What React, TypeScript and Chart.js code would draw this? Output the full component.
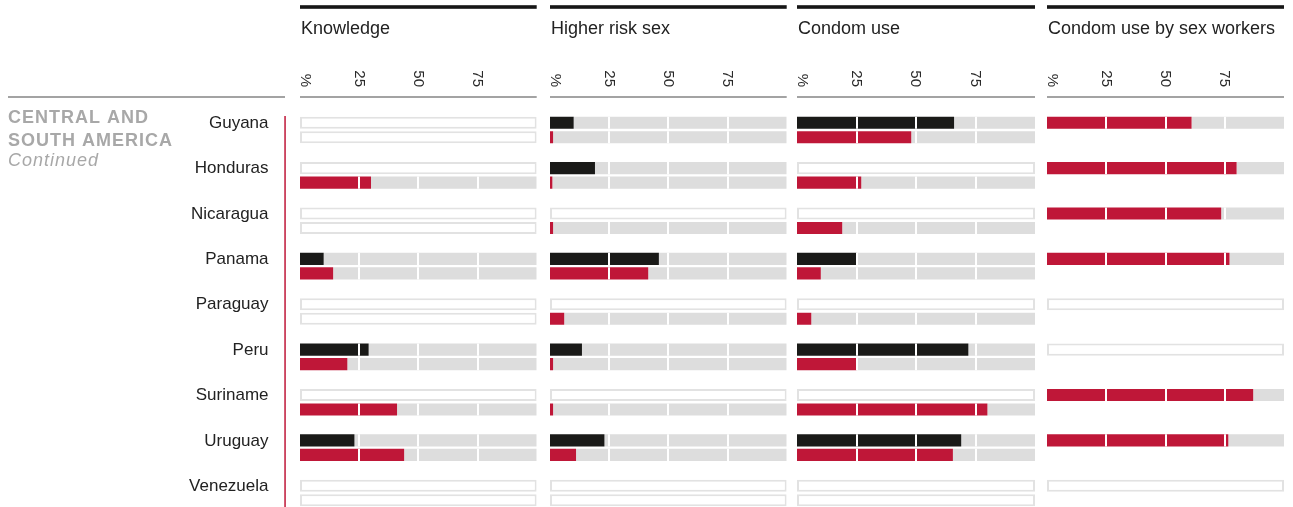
import React, { useEffect, useRef } from 'react';
import { Chart, registerables } from 'chart.js';

Chart.register(...registerables);

// ---------- data ----------
const countries = ['Guyana', 'Honduras', 'Nicaragua', 'Panama', 'Paraguay', 'Peru', 'Suriname', 'Uruguay', 'Venezuela'];
const panelTitles = ['Knowledge', 'Higher risk sex', 'Condom use', 'Condom use by sex workers'];
const tickValues = [0, 25, 50, 75];
const tickLabels = ['%', '25', '50', '75'];
const regionLines = ['CENTRAL AND', 'SOUTH AMERICA'];
const regionNote = 'Continued';

const knowledgeBlack = [null, null, null, 10, null, 29, null, 23, null];
const knowledgeRed = [null, 30, null, 14, null, 20, 41, 44, null];
const riskBlack = [10, 19, null, 46, null, 13.5, null, 23, null];
const riskRed = [1.3, 1, 1.3, 41.5, 6, 1.3, 1.3, 11, null];
const condomBlack = [66, null, null, 25, null, 72, null, 69, null];
const condomRed = [48, 27, 19, 10, 6, 25, 80, 65.5, null];
const sexWorkersRed = [61, 80, 73.5, 77, null, null, 87, 76.5, null];

// ---------- styles ----------
const BLACK = '#1a1a18';
const RED = '#bf1738';
const GRAY = '#dddddd';
const BOX = '#e2e2e2';
const FONT = '"Liberation Sans", Arial, sans-serif';

type Series = (number | null)[];
const panels: { title: string; top: Series; bottom: Series | null; topColor: string; left: number; width: number; padLeft: number; padRight: number }[] = [
  { title: panelTitles[0], top: knowledgeBlack, bottom: knowledgeRed, topColor: BLACK, left: 0, width: 545, padLeft: 300, padRight: 8.3 },
  { title: panelTitles[1], top: riskBlack, bottom: riskRed, topColor: BLACK, left: 540, width: 250, padLeft: 10, padRight: 3.3 },
  { title: panelTitles[2], top: condomBlack, bottom: condomRed, topColor: BLACK, left: 787, width: 250, padLeft: 10, padRight: 2 },
  { title: panelTitles[3], top: sexWorkersRed, bottom: null, topColor: RED, left: 1037, width: 256, padLeft: 10, padRight: 9 },
];

const CANVAS_H = 520;

function buildDatasets(top: Series, bottom: Series | null, topColor: string) {
  const make = (vals: Series | null, color: string, stack: string) => {
    const v = vals || countries.map(() => null);
    const present = !!vals;
    return [
      { label: stack + '-value', stack, data: v.map((x) => (x == null ? null : x)), backgroundColor: color, borderWidth: 0 },
      { label: stack + '-rest', stack, data: v.map((x) => (x == null ? null : 100 - x)), backgroundColor: GRAY, borderWidth: 0 },
      {
        label: stack + '-empty', stack,
        data: v.map((x) => (present && x == null ? 100 : null)),
        backgroundColor: '#ffffff', borderColor: BOX, borderWidth: 2, borderSkipped: false,
      },
    ];
  };
  return [...make(top, topColor, 'a'), ...make(bottom, RED, 'b')];
}

const whiteGrid = {
  id: 'whiteGrid',
  afterDatasetsDraw(chart: any) {
    const ctx = chart.ctx;
    const xs = chart.scales.x;
    ctx.save();
    ctx.strokeStyle = '#ffffff';
    ctx.lineWidth = 2;
    [0, 3].forEach((di) => {
      const ds = chart.data.datasets[di];
      const meta = chart.getDatasetMeta(di);
      ds.data.forEach((v: any, i: number) => {
        if (v == null) return;
        const el = meta.data[i];
        const t = el.y - el.height / 2;
        [25, 50, 75].forEach((tv) => {
          const x = Math.round(xs.getPixelForValue(tv));
          ctx.beginPath();
          ctx.moveTo(x, t);
          ctx.lineTo(x, t + el.height);
          ctx.stroke();
        });
      });
    });
    ctx.restore();
  },
};

const header = {
  id: 'header',
  afterDraw(chart: any, _args: any, opts: any) {
    const ctx = chart.ctx;
    const xs = chart.scales.x;
    const l = xs.getPixelForValue(0);
    const r = xs.getPixelForValue(100);
    ctx.save();
    // black top rule
    ctx.fillStyle = '#161616';
    ctx.fillRect(l, 5.2, r - l, 3.6);
    // title
    ctx.fillStyle = '#222222';
    ctx.font = `18px ${FONT}`;
    ctx.textAlign = 'left';
    ctx.textBaseline = 'alphabetic';
    ctx.fillText(opts.title, l + 1, 33.5);
    // rotated ticks
    ctx.fillStyle = '#2a2a2a';
    ctx.font = `15px ${FONT}`;
    tickValues.forEach((tv, i) => {
      const x = i === 0 ? l + 5 : xs.getPixelForValue(tv) - 0.5;
      ctx.save();
      ctx.translate(x, 87);
      ctx.rotate(Math.PI / 2);
      ctx.textAlign = 'right';
      ctx.textBaseline = 'middle';
      ctx.fillText(tickLabels[i], 0, 0);
      ctx.restore();
    });
    // gray rule
    ctx.fillStyle = '#a3a3a3';
    ctx.fillRect(l, 96, r - l, 2);
    ctx.restore();
  },
};

const leftSide = {
  id: 'leftSide',
  afterDraw(chart: any) {
    const ctx = chart.ctx;
    ctx.save();
    ctx.fillStyle = '#a3a3a3';
    ctx.fillRect(8, 96, 277, 2);
    // region text
    ctx.fillStyle = '#a8a8a8';
    ctx.textAlign = 'left';
    ctx.textBaseline = 'alphabetic';
    (ctx as any).letterSpacing = '1px';
    ctx.font = `bold 18px ${FONT}`;
    ctx.fillText(regionLines[0], 8, 123.3);
    ctx.fillText(regionLines[1], 8, 145.8);
    ctx.font = `italic 18px ${FONT}`;
    ctx.fillText(regionNote, 8, 165.5);
    (ctx as any).letterSpacing = '0px';
    // country labels
    ctx.fillStyle = '#222222';
    ctx.font = `17px ${FONT}`;
    ctx.textAlign = 'right';
    ctx.textBaseline = 'middle';
    const meta = chart.getDatasetMeta(0);
    countries.forEach((c, i) => {
      const el = meta.data[i];
      ctx.fillText(c, 268.5, el.y + 0.5);
    });
    // red vertical rule
    ctx.fillStyle = RED;
    ctx.fillRect(284.3, 116, 1.5, 400);
    ctx.restore();
  },
};

function Panel({ idx }: { idx: number }) {
  const ref = useRef<HTMLCanvasElement | null>(null);
  const p = panels[idx];
  useEffect(() => {
    if (!ref.current) return;
    const chart = new Chart(ref.current, {
      type: 'bar',
      data: { labels: countries, datasets: buildDatasets(p.top, p.bottom, p.topColor) as any },
      options: {
        indexAxis: 'y',
        animation: false,
        responsive: false,
        maintainAspectRatio: false,
        events: [],
        layout: { padding: { left: p.padLeft, right: p.padRight, top: 107.3, bottom: CANVAS_H - 515.7 } },
        datasets: { bar: { categoryPercentage: 0.639, barPercentage: 0.83 } } as any,
        scales: {
          x: { display: false, min: 0, max: 100, stacked: true },
          y: { display: false, offset: true },
        },
        plugins: {
          legend: { display: false },
          tooltip: { enabled: false },
          title: { display: false },
          header: { title: p.title },
        } as any,
      },
      plugins: idx === 0 ? [whiteGrid, header, leftSide] : [whiteGrid, header],
    });
    return () => chart.destroy();
  }, [idx]);
  return (
    <canvas
      ref={ref}
      width={p.width}
      height={CANVAS_H}
      style={{ position: 'absolute', left: p.left, top: 0, width: p.width, height: CANVAS_H }}
    />
  );
}

export default function App() {
  useEffect(() => {
    document.body.style.margin = '0';
    document.body.style.overflow = 'hidden';
  }, []);
  return (
    <div style={{ position: 'relative', width: 1293, height: 507, overflow: 'hidden', background: '#fff' }}>
      {panels.map((_, i) => (
        <Panel key={i} idx={i} />
      ))}
    </div>
  );
}
